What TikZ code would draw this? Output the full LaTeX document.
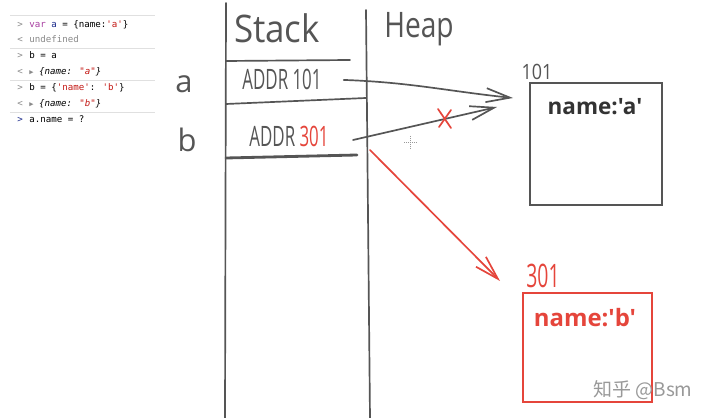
\documentclass[tikz,border=0pt]{standalone}
\usepackage{fontspec}
\usetikzlibrary{positioning, arrows.meta}
\newfontfamily\handfont{Open Sans}
\newfontfamily\consolefont[Ligatures=TeXOff]{DejaVu Sans Mono}
\newfontfamily\cjkfont{Noto Sans CJK SC}
\definecolor{ink}{HTML}{555555}
\definecolor{inkred}{HTML}{E5453B}
\definecolor{cpurple}{HTML}{A83FA1}
\definecolor{cblue}{HTML}{1C2C8C}
\definecolor{cred}{HTML}{C41A16}
\definecolor{cgray}{HTML}{8A8A8A}

\begin{document}
\begin{tikzpicture}[x=0.25mm, y=0.25mm,
  pen/.style={draw=ink, line width=1.2pt, line cap=round},
  redpen/.style={draw=inkred, line width=1.2pt, line cap=round},
  hand/.style={font=\handfont\fontsize{20}{20}\selectfont, text=ink, inner sep=0pt, anchor=base},
  con/.style={font=\consolefont\fontsize{6.5}{7}\selectfont, anchor=base west, inner sep=0pt},
  prompt/.style={con, text=cgray},
  sep/.style={draw=black!12, line width=0.5pt},
  barb/.style={-{Straight Barb[length=6mm, width=3.5mm]}}]
\useasboundingbox[fill=white] (0,0) rectangle (720,-418);

% console
\draw[sep] (10,-15) -- (155,-15);
\draw[sep] (10,-48) -- (155,-48);
\draw[sep] (10,-80) -- (155,-80);
\draw[sep] (10,-112) -- (155,-112);
\node[prompt] (p1) at (17,-28) {>};
\node[con] (c1) at (29,-28) {\textcolor{cpurple}{var} \textcolor{cblue}{a} = \{name:\textcolor{cred}{'a'}\}};
\node[prompt] (p2) at (17,-43) {<};
\node[con, text=cgray] (c2) at (29,-43) {undefined};
\node[prompt] (p3) at (17,-59) {>};
\node[con] (c3) at (29,-59) {b = a};
\node[prompt] (p4) at (17,-75) {<};
\node[con] (c4) at (29,-75) {\textcolor{cgray}{\fontsize{5}{6}\selectfont▶} \itshape\{name: \textcolor{cred}{"a"}\}};
\node[prompt] (p5) at (17,-91) {>};
\node[con] (c5) at (29,-91) {b = \{\textcolor{cred}{'name'}: \textcolor{cred}{'b'}\}};
\node[prompt] (p6) at (17,-107) {<};
\node[con] (c6) at (29,-107) {\textcolor{cgray}{\fontsize{5}{6}\selectfont▶} \itshape\{name: \textcolor{cred}{"b"}\}};
\node[prompt, text=cblue] (p7) at (17,-123) {>};
\node[con] (c7) at (29,-123) {a.name = ?};

% variables
\node[hand, font=\handfont\fontsize{22}{22}\selectfont] (va) at (184,-93) {a};
\node[hand, font=\handfont\fontsize{22}{22}\selectfont] (vb) at (187,-152) {b};

% stack
\draw[pen] (226,-3) -- (225,-418);
\draw[pen] (366,-10) -- (370,-418);
\node[hand, font=\handfont\fontsize{27}{27}\selectfont, xscale=0.92] (stack) at (277,-43) {Stack};
\node[hand, font=\handfont\fontsize{25}{25}\selectfont, xscale=0.8] (heap) at (419,-38) {Heap};
\draw[pen] (226,-61) -- (350,-60);
\node[hand, xscale=0.6] (addra) at (282,-90) {ADDR 101};
\draw[pen] (226,-104) -- (366,-98);
\node[hand, xscale=0.6] (addrb) at (289,-147) {ADDR \textcolor{inkred}{301}};
\draw[pen, line width=2pt] (226,-158) -- (357,-155);

% heap objects
\node[pen, minimum width=33mm, minimum height=30.5mm, inner sep=0pt] (boxa) at (596,-144) {};
\node[hand, font=\handfont\fontsize{15}{15}\selectfont, xscale=0.85] (numa) at (537,-80) {101};
\node[hand, text=ink!60!black, font=\handfont\bfseries\fontsize{16}{16}\selectfont] (namea) at (595,-115) {name:'a'};
\node[redpen, minimum width=32.25mm, minimum height=27.25mm, inner sep=0pt] (boxb) at (587.5,-347.5) {};
\node[hand, text=inkred, font=\handfont\fontsize{23}{23}\selectfont, xscale=0.6] (numb) at (543,-288) {301};
\node[hand, text=inkred, font=\handfont\bfseries\fontsize{17}{17}\selectfont] (nameb) at (585,-327) {name:'b'};

% references
\coordinate[right=5.5mm of addra] (outa);
\coordinate (outb) at (353,-140);
\coordinate (outr) at (370,-150);
\coordinate (ina) at (513,-98);
\coordinate (inb) at (497,-107);
\coordinate (inr) at (500,-281);
\draw[pen, barb] (outa) to[out=-2, in=174] (ina);
\draw[pen, barb] (outb) -- (inb);
\draw[redpen, barb] (outr) -- (inr);
\draw[redpen] (438,-109) -- (451,-128) (439,-127) -- (451,-110);

% cursor
\draw[black!40, densely dotted] (404,-142) -- (416,-142) (410,-136) -- (410,-148);

% watermark
\node[anchor=base, inner sep=0pt, text=black!40, font=\cjkfont\fontsize{13.5}{14}\selectfont] (mark) at (643,-397) {知乎 @Bsm};
\end{tikzpicture}
\end{document}
